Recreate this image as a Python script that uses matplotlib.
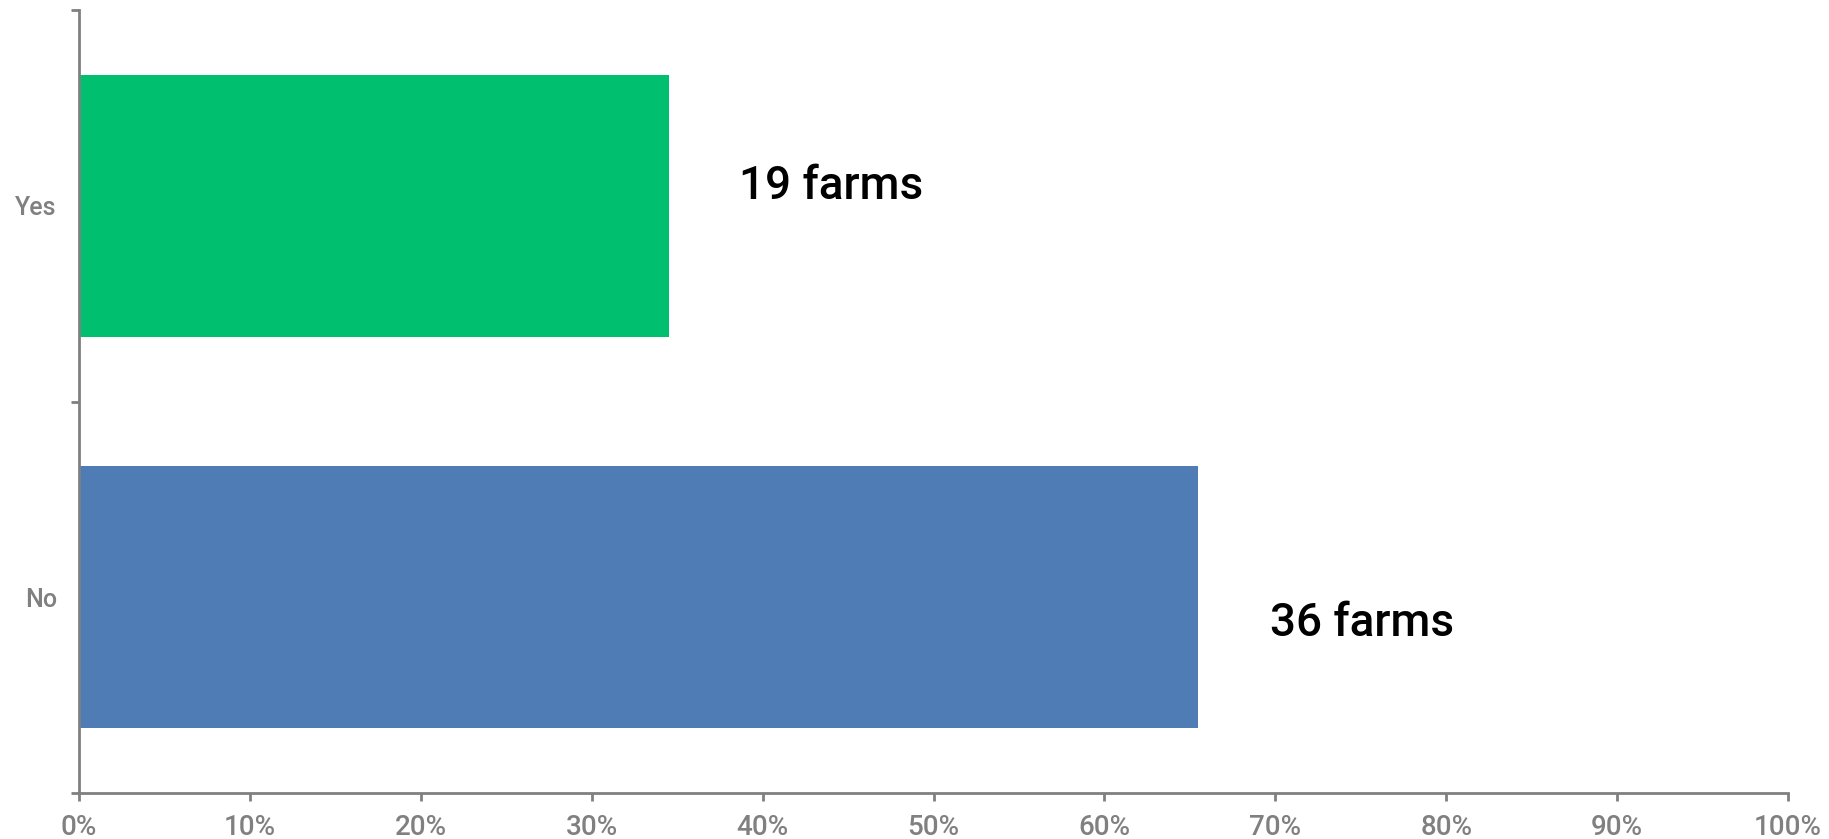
import matplotlib.pyplot as plt
from matplotlib.ticker import FixedLocator, PercentFormatter

# Survey answers (counts of farms)
answers = ['No', 'Yes']
farms = [36, 19]
colors = ['#4f7cb4', '#00bf6f']
labels = ['36 farms', '19 farms']
# label anchor (percent, category offset)
label_x = [69.7, 38.6]
label_dy = [-0.1, 0.018]

total = sum(farms)
pct = [100.0 * f / total for f in farms]

plt.rcParams['font.family'] = ['Roboto', 'DejaVu Sans']
plt.rcParams['font.weight'] = 'medium'
gray = '#808080'

fig = plt.figure(figsize=(18.29, 8.39), dpi=100)
ax = fig.add_axes([0.0432, 0.0548, 0.9344, 0.9332])

pos = list(range(len(answers)))
ax.barh(pos, pct, height=0.67, color=colors)

for i in pos:
    ax.text(label_x[i], pos[i] + label_dy[i], labels[i], fontsize=33,
            color='black', ha='left', va='baseline', fontweight='medium')

ax.set_xlim(0, 100)
ax.set_ylim(-0.5, 1.5)
ax.set_xticks(range(0, 101, 10))
ax.xaxis.set_major_formatter(PercentFormatter(decimals=0))
ax.set_yticks(pos)
ax.set_yticklabels(answers)
ax.yaxis.set_minor_locator(FixedLocator([-0.5, 0.5, 1.5]))

for s in ['top', 'right']:
    ax.spines[s].set_visible(False)
for s in ['left', 'bottom']:
    ax.spines[s].set_color(gray)
    ax.spines[s].set_linewidth(2)

ax.tick_params(axis='x', colors=gray, labelsize=20, length=6, width=2, pad=9)
ax.tick_params(axis='y', which='major', colors=gray, labelsize=18, length=0, pad=16)
ax.tick_params(axis='y', which='minor', color=gray, length=6, width=2)

fig.savefig('out.png', dpi=100)
